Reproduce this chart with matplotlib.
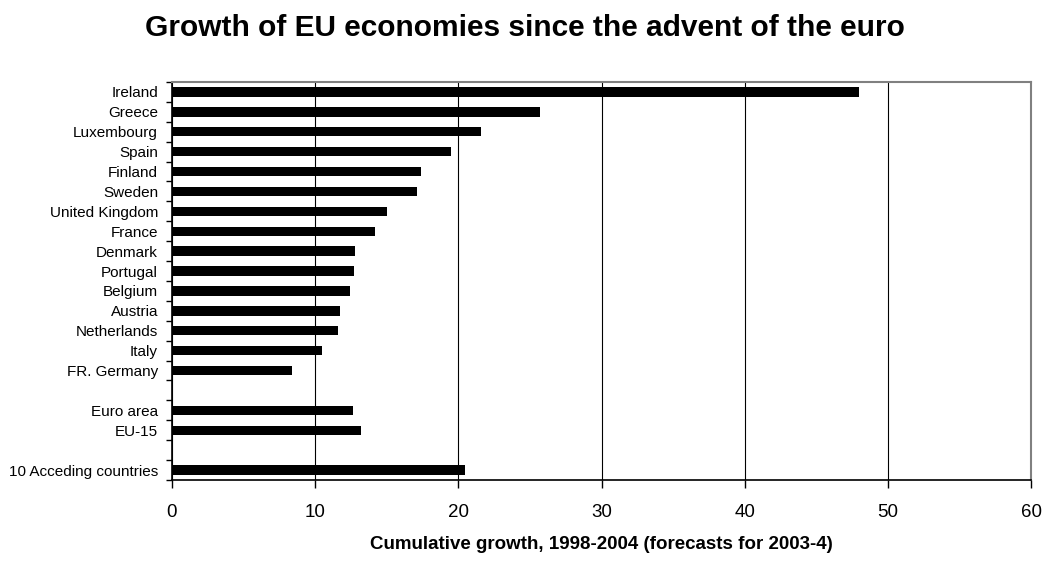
import matplotlib
matplotlib.use("Agg")
import matplotlib.pyplot as plt
import numpy as np

plt.rcParams['font.family'] = ['Liberation Sans', 'DejaVu Sans']

categories = ["Ireland", "Greece", "Luxembourg", "Spain", "Finland", "Sweden",
              "United Kingdom", "France", "Denmark", "Portugal", "Belgium",
              "Austria", "Netherlands", "Italy", "FR. Germany", "",
              "Euro area", "EU-15", "", "10 Acceding countries"]
values = [48.0, 25.7, 21.6, 19.5, 17.4, 17.1, 15.0, 14.2, 12.8, 12.7, 12.4,
          11.7, 11.6, 10.5, 8.4, np.nan, 12.65, 13.2, np.nan, 20.5]
xticks = [0, 10, 20, 30, 40, 50, 60]

fig = plt.figure(figsize=(10.49, 5.63), dpi=100)
ax = fig.add_axes([172/1049, 1-480/563, (1031-172)/1049, (480-82)/563])

n = len(categories)
pos = np.arange(n)
vals = np.array(values, dtype=float)
mask = ~np.isnan(vals)
ax.barh(pos[mask], vals[mask], height=0.47, color='black', zorder=3)

ax.set_ylim(n - 0.5, -0.5)
ax.set_xlim(0, 60)
ax.set_xticks(xticks)
ax.set_xticklabels([str(t) for t in xticks], fontsize=13.5)
ax.set_yticks(pos)
ax.set_yticklabels(categories, fontsize=11)
ax.set_yticks(np.arange(n + 1) - 0.5, minor=True)
ax.tick_params(axis='y', which='major', length=0, pad=10)
ax.tick_params(axis='y', which='minor', length=4, width=1, color='black')
ax.tick_params(axis='x', which='major', length=6, width=1, pad=11)

ax.xaxis.grid(True, color='black', linewidth=0.8, zorder=0)
ax.set_axisbelow(True)
for s in ['top', 'right']:
    ax.spines[s].set_color('#808080')
    ax.spines[s].set_linewidth(1.5)
for s in ['left', 'bottom']:
    ax.spines[s].set_color('black')
    ax.spines[s].set_linewidth(1.2)

ax.set_xlabel("Cumulative growth, 1998-2004 (forecasts for 2003-4)",
              fontsize=13.5, fontweight='bold', labelpad=11)
fig.text(525/1049, 1-28/563, "Growth of EU economies since the advent of the euro",
         ha='center', va='center', fontsize=21.5, fontweight='bold')

fig.savefig("out.png", dpi=100)
